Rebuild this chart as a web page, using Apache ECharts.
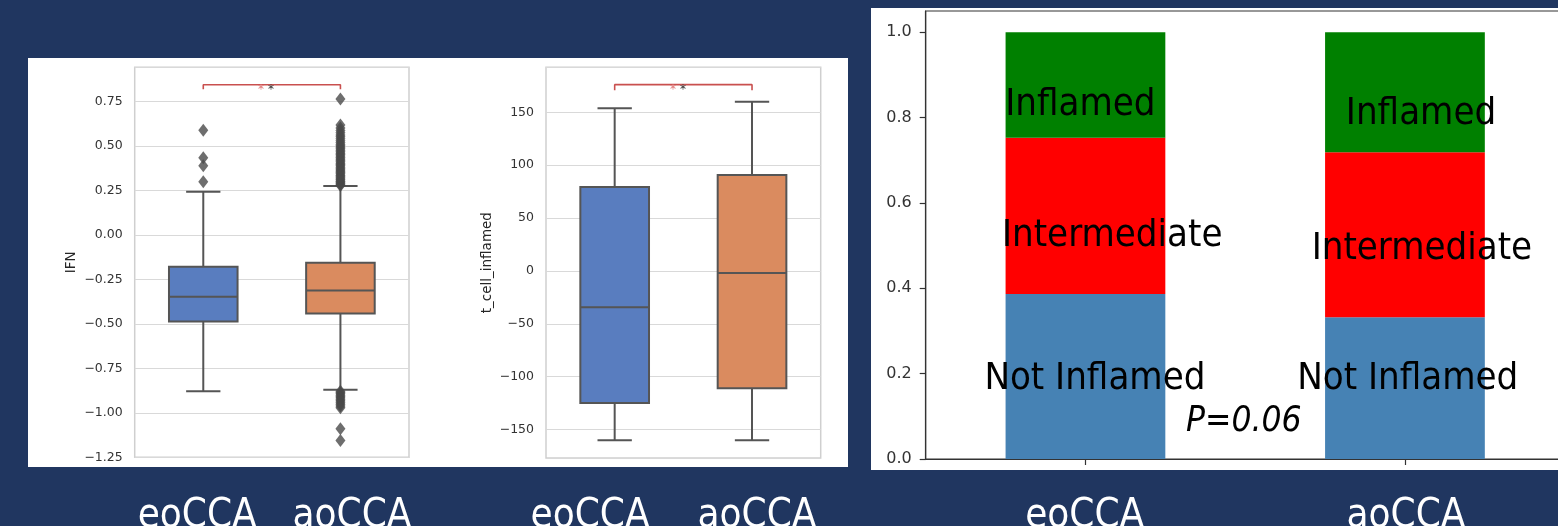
<!DOCTYPE html>
<html>
<head>
<meta charset="utf-8">
<script src="https://cdn.jsdelivr.net/npm/echarts@6/dist/echarts.min.js"></script>
<style>
html,body{margin:0;padding:0;background:#203660;}
#c{width:1558px;height:526px;}
</style>
</head>
<body>
<div id="c"></div>
<script>
// ---------------- DATA ----------------
const groups = ['eoCCA', 'aoCCA'];

// IFN boxplot: [lower whisker, Q1, median, Q3, upper whisker]
const ifnEo = [-0.879, -0.486, -0.347, -0.179, 0.243];
const ifnAo = [-0.870, -0.441, -0.312, -0.156, 0.275];
const ifnOutEo = [0.589, 0.435, 0.390, 0.299];
const ifnOutAo = [0.278, 0.283, 0.290, 0.296, 0.301, 0.309, 0.315, 0.322, 0.330, 0.336,
  0.344, 0.351, 0.358, 0.366, 0.372, 0.381, 0.389, 0.396, 0.404, 0.412, 0.420, 0.427,
  0.436, 0.444, 0.452, 0.460, 0.468, 0.476, 0.485, 0.493, 0.502, 0.511, 0.520, 0.530,
  0.541, 0.552, 0.563, 0.575, 0.588, 0.602, 0.618, 0.765,
  -0.878, -0.886, -0.893, -0.901, -0.909, -0.917, -0.926, -0.934, -0.943, -0.952,
  -0.962, -0.972, -1.090, -1.155];
const ifnBracket = [0.820, 0.845];

// t_cell_inflamed boxplot: [lower whisker, Q1, median, Q3, upper whisker]
const tcEo = [-160, -124.8, -34.3, 79.4, 153.8];
const tcAo = [-160, -110.9, -1.9, 90.7, 160];
const tcBracket = [170.8, 176.1];

const sigText = '**';

// Stacked proportions
const notInflamed = [0.387, 0.332];
const intermediate = [0.366, 0.387];
const inflamed = [0.247, 0.281];
const stackNames = ['Not Inflamed', 'Intermediate', 'Inflamed'];
const pText = 'P=0.06';

const ifnName = 'IFN';
const tcName = 't_cell_inflamed';
const pctTicks = [0, 0.2, 0.4, 0.6, 0.8, 1.0];

// ---------------- STYLE ----------------
const NAVY = '#203660';
const BOXC = ['#597dbf', '#da8b5f'];
const LINEC = '#555555';
const GRIDC = '#d9d9d9';
const BORDERC = '#cfcfcf';
const BIG = "'DejaVu Sans Condensed','Liberation Sans Narrow','DejaVu Sans',sans-serif";
const SMALL = "'DejaVu Sans',sans-serif";

function minusFmt(d) {
  return function (v) {
    const s = Math.abs(v).toFixed(d);
    return (v < -1e-9 ? '\u2212' : '') + s;
  };
}

function boxRender(params, api) {
  const c = api.value(0);
  const lo = api.coord([c, api.value(1)]);
  const q1 = api.coord([c, api.value(2)]);
  const md = api.coord([c, api.value(3)]);
  const q3 = api.coord([c, api.value(4)]);
  const hi = api.coord([c, api.value(5)]);
  const band = api.size([1, 0])[0];
  const bw = band * 0.5;
  const cw = bw / 2;
  const x = md[0];
  const ls = { stroke: LINEC, lineWidth: 2 };
  return {
    type: 'group',
    children: [
      { type: 'line', shape: { x1: x, y1: q1[1], x2: x, y2: lo[1] }, style: ls },
      { type: 'line', shape: { x1: x, y1: q3[1], x2: x, y2: hi[1] }, style: ls },
      { type: 'line', shape: { x1: x - cw / 2, y1: lo[1], x2: x + cw / 2, y2: lo[1] }, style: ls },
      { type: 'line', shape: { x1: x - cw / 2, y1: hi[1], x2: x + cw / 2, y2: hi[1] }, style: ls },
      { type: 'rect', shape: { x: x - bw / 2, y: q3[1], width: bw, height: q1[1] - q3[1] },
        style: { fill: BOXC[params.dataIndex], stroke: LINEC, lineWidth: 2 } },
      { type: 'line', shape: { x1: x - bw / 2, y1: md[1], x2: x + bw / 2, y2: md[1] }, style: ls }
    ]
  };
}

function boxGrid(left, top, width, height) {
  return { left: left, top: top, width: width, height: height, show: true, outerBoundsMode: 'none',
    containLabel: false, backgroundColor: '#ffffff', borderColor: BORDERC, borderWidth: 1.5 };
}

function catX(gi) {
  return { type: 'category', gridIndex: gi, data: groups,
    axisLine: { show: false }, axisTick: { show: false },
    axisLabel: { show: false }, splitLine: { show: false } };
}

const chart = echarts.init(document.getElementById('c'), null, { renderer: 'canvas' });

const tickFont = { fontFamily: SMALL, fontSize: 12.5, color: '#333333', margin: 12 };

const option = {
  animation: false,
  backgroundColor: NAVY,
  grid: [
    boxGrid(134.7, 67.3, 274.3, 390),
    boxGrid(546, 67.3, 274.7, 390.7),
    { left: 925.7, top: 11, width: 639, height: 448, show: true, outerBoundsMode: 'none', containLabel: false,
      backgroundColor: '#ffffff', borderColor: '#333333', borderWidth: 1.2 }
  ],
  xAxis: [
    catX(0),
    catX(1),
    { type: 'category', gridIndex: 2, data: groups,
      axisLine: { show: true, lineStyle: { color: '#333333', width: 1.2 } },
      axisTick: { show: true, alignWithLabel: true, length: 6, lineStyle: { color: '#333333', width: 1.2 } },
      axisLabel: { show: false }, splitLine: { show: false } }
  ],
  yAxis: [
    { type: 'value', gridIndex: 0, min: -1.25, max: 0.943, minInterval: 0.25, maxInterval: 0.25, splitNumber: 8,
      name: ifnName, nameLocation: 'middle', nameGap: 56,
      nameTextStyle: { fontFamily: SMALL, fontSize: 13.5, color: '#262626' },
      axisLine: { show: false }, axisTick: { show: false },
      axisLabel: Object.assign({ formatter: minusFmt(2), showMaxLabel: false }, tickFont),
      splitLine: { show: true, lineStyle: { color: GRIDC, width: 1.2 } } },
    { type: 'value', gridIndex: 1, min: -176.8, max: 192.5, minInterval: 50, maxInterval: 50, splitNumber: 7,
      name: tcName, nameLocation: 'middle', nameGap: 52,
      nameTextStyle: { fontFamily: SMALL, fontSize: 13.5, color: '#262626' },
      axisLine: { show: false }, axisTick: { show: false },
      axisLabel: Object.assign({ formatter: minusFmt(0), showMaxLabel: false, showMinLabel: false }, tickFont),
      splitLine: { show: true, lineStyle: { color: GRIDC, width: 1.2 } } },
    { type: 'value', gridIndex: 2, min: 0, max: 1.05, minInterval: 0.2, maxInterval: 0.2, splitNumber: 5,
      axisLine: { show: true, lineStyle: { color: '#333333', width: 1.2 } },
      axisTick: { show: true, length: 6, customValues: pctTicks, lineStyle: { color: '#333333', width: 1.2 } },
      axisLabel: { customValues: pctTicks, formatter: function (v) { return v.toFixed(1); },
        fontFamily: SMALL, fontSize: 16, color: '#333333', margin: 14, showMaxLabel: true },
      splitLine: { show: false } }
  ],
  series: [
    { type: 'custom', xAxisIndex: 0, yAxisIndex: 0, renderItem: boxRender, z: 3,
      encode: { x: 0, y: [1, 2, 3, 4, 5] },
      data: [[0].concat(ifnEo), [1].concat(ifnAo)] },
    { type: 'scatter', xAxisIndex: 0, yAxisIndex: 0, symbol: 'diamond', symbolSize: [10, 13], z: 4,
      itemStyle: { color: '#4a4a4a' },
      data: ifnOutEo.map(v => [0, v]).concat(ifnOutAo.map(v => [1, v])) },
    { type: 'line', xAxisIndex: 0, yAxisIndex: 0, symbol: 'none', z: 5,
      lineStyle: { color: '#c9504f', width: 1.6 },
      data: [[0, ifnBracket[0]], [0, ifnBracket[1]], [1, ifnBracket[1]], [1, ifnBracket[0]]] },

    { type: 'custom', xAxisIndex: 1, yAxisIndex: 1, renderItem: boxRender, z: 3,
      encode: { x: 0, y: [1, 2, 3, 4, 5] },
      data: [[0].concat(tcEo), [1].concat(tcAo)] },
    { type: 'line', xAxisIndex: 1, yAxisIndex: 1, symbol: 'none', z: 5,
      lineStyle: { color: '#c9504f', width: 1.6 },
      data: [[0, tcBracket[0]], [0, tcBracket[1]], [1, tcBracket[1]], [1, tcBracket[0]]] },

    { type: 'bar', name: stackNames[0], xAxisIndex: 2, yAxisIndex: 2, stack: 's', barWidth: '50%',
      itemStyle: { color: '#4682b4' }, data: notInflamed },
    { type: 'bar', name: stackNames[1], xAxisIndex: 2, yAxisIndex: 2, stack: 's', barWidth: '50%',
      itemStyle: { color: '#ff0000' }, data: intermediate },
    { type: 'bar', name: stackNames[2], xAxisIndex: 2, yAxisIndex: 2, stack: 's', barWidth: '50%',
      itemStyle: { color: '#008000' }, data: inflamed }
  ]
};

function bigText(txt, x, y, size, color, italic) {
  return { type: 'text', x: x, y: y, z: 100,
    style: { text: txt, fill: color, font: (italic ? 'italic ' : '') + size + 'px ' + BIG,
      align: 'center', verticalAlign: 'middle' } };
}

const g = [];
// white panels
g.push({ type: 'rect', z: -10, shape: { x: 28, y: 58, width: 820, height: 409 }, style: { fill: '#ffffff' } });
g.push({ type: 'rect', z: -10, shape: { x: 871, y: 8, width: 700, height: 462 }, style: { fill: '#ffffff' } });
// significance stars
[[261, 89.5], [673, 90]].forEach(function (p) {
  g.push({ type: 'text', x: p[0], y: p[1], z: 100,
    style: { text: sigText[0], fill: '#e07a7a', font: '12px ' + SMALL, align: 'center', verticalAlign: 'middle' } });
  g.push({ type: 'text', x: p[0] + 10, y: p[1], z: 100,
    style: { text: sigText[1], fill: '#333333', font: '12px ' + SMALL, align: 'center', verticalAlign: 'middle' } });
});
// stacked-bar segment labels
const segPos = [
  [[1094.9, 379.4], [1112.2, 236.3], [1080.4, 105.5]],
  [[1407.7, 379.4], [1421.9, 249.6], [1421.0, 114.5]]
];
for (let i = 0; i < 2; i++) {
  for (let k = 0; k < 3; k++) {
    g.push(bigText(stackNames[k], segPos[i][k][0], segPos[i][k][1], 38, '#000000', false));
  }
}
g.push(bigText(pText, 1243.8, 422.2, 35, '#000000', true));
// group labels under each panel
const bottomPos = [[197.2, 352], [590, 757], [1084.7, 1406]];
bottomPos.forEach(function (pp) {
  for (let i = 0; i < 2; i++) g.push(bigText(groups[i], pp[i], 517, 40, '#ffffff', false));
});
option.graphic = { elements: g };

chart.setOption(option);
</script>
</body>
</html>
